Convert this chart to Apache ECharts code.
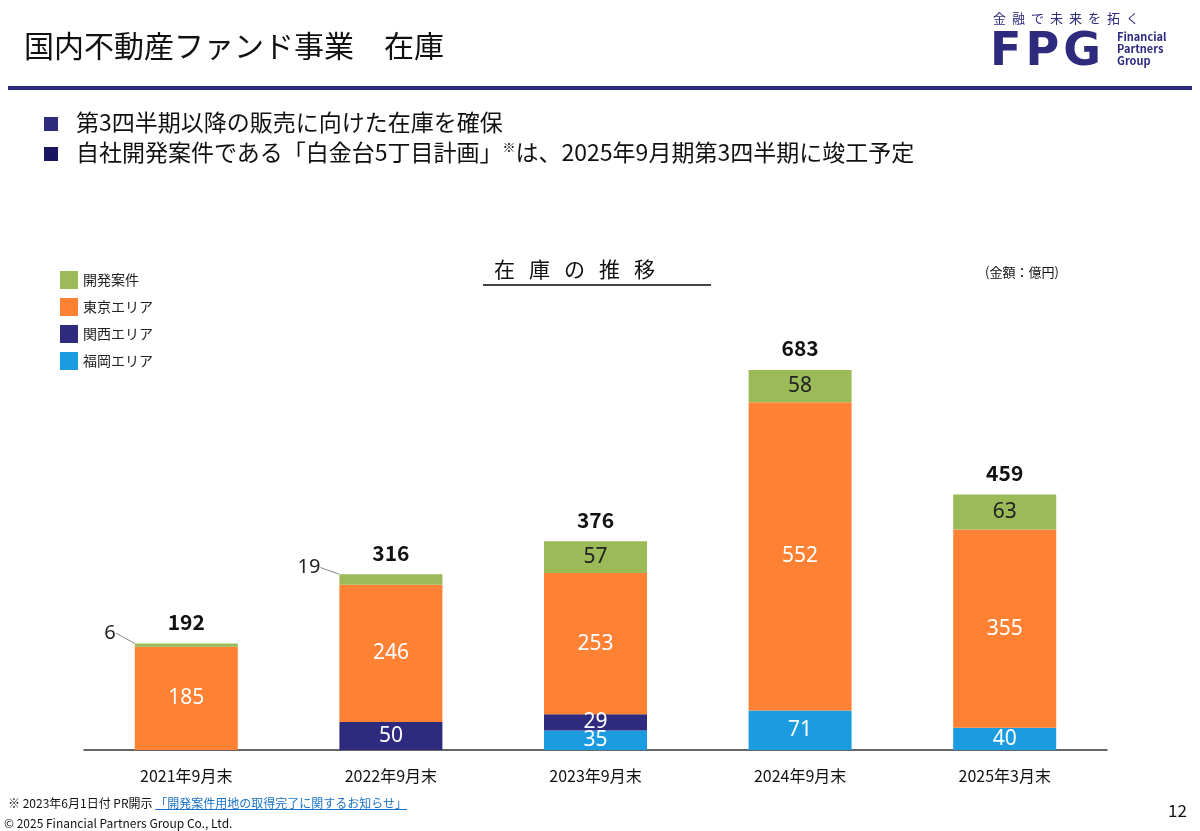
<!DOCTYPE html>
<html><head><meta charset="utf-8">
<script src="https://cdn.jsdelivr.net/npm/echarts@6/dist/echarts.min.js"></script>
<style>
html,body{margin:0;padding:0;background:#fff;font-family:"Noto Sans CJK JP","Noto Sans",sans-serif;}
#wrap{position:relative;width:1200px;height:831px;overflow:hidden;}
#chart{position:absolute;left:0;top:0;width:1200px;height:831px;}
.t{position:absolute;white-space:nowrap;color:#111;}
</style></head><body>
<div id="wrap">
<div id="chart"></div>
<div class="t" style="left:24px;top:22px;font-size:30px;">国内不動産ファンド事業　在庫</div>
<div style="position:absolute;left:8px;top:86px;width:1184px;height:4px;background:#2e2a7e;"></div>
<div class="t" style="left:993px;top:8px;font-size:13px;letter-spacing:6px;color:#2e2a7e;">金融で未来を拓く</div>
<div class="t" style="left:990px;top:26px;font-size:46px;font-weight:bold;color:#2e2a7e;font-family:'DejaVu Sans';letter-spacing:4px;line-height:46px;">FPG</div>
<div class="t" style="left:1117px;top:30px;font-size:11px;font-weight:bold;color:#2e2a7e;line-height:12px;">Financial<br>Partners<br>Group</div>
<div class="t" style="left:44px;top:104px;font-size:23px;"><span style="display:inline-block;width:14px;height:14px;background:#2e2a7e;margin-right:18px;"></span>第3四半期以降の販売に向けた在庫を確保</div>
<div class="t" style="left:44px;top:134px;font-size:23px;"><span style="display:inline-block;width:14px;height:14px;background:#1a1560;margin-right:18px;"></span>自社開発案件である「白金台5丁目計画」<sup style="font-size:13px">※</sup>は、2025年9月期第3四半期に竣工予定</div>
<div class="t" style="left:494px;top:253px;font-size:21px;letter-spacing:14px;">在庫の推移</div>
<div style="position:absolute;left:483px;top:284px;width:228px;height:2px;background:#444;"></div>
<div class="t" style="left:985px;top:262px;font-size:13px;">(金額：億円)</div>
<div class="t" style="left:8px;top:794px;font-size:12px;">※ 2023年6月1日付 PR開示 <span style="color:#1a73c8;text-decoration:underline;">「開発案件用地の取得完了に関するお知らせ」</span></div>
<div class="t" style="left:4px;top:814px;font-size:12px;">© 2025 Financial Partners Group Co., Ltd.</div>
<div class="t" style="left:1168px;top:797px;font-size:17px;">12</div>
</div>
<script>
const categories = ['2021年9月末', '2022年9月末', '2023年9月末', '2024年9月末', '2025年3月末'];
const fukuoka = [0, 0, 35, 71, 40];
const kansai = [0, 50, 29, 0, 0];
const tokyo = [185, 246, 253, 552, 355];
const kaihatsu = [6, 19, 57, 58, 63];
const totals = [192, 316, 376, 683, 459];

const chart = echarts.init(document.getElementById('chart'));
const inLabel = { show: true, position: 'inside', color: '#fff', fontSize: 21, fontFamily: 'Noto Sans', formatter: p => p.value ? p.value : '' };
const mk = (name, data, color, label) => ({
  name, type: 'bar', stack: 'a', data, barWidth: 103,
  itemStyle: { color }, label: label || inLabel
});
const devData = kaihatsu.map((v, i) => i < 2 ? {
  value: v,
  label: { position: 'left', color: '#222', fontSize: 20 },
  labelLine: { show: true, lineStyle: { color: '#888' } }
} : v);
chart.setOption({
  animation: false,
  textStyle: { fontFamily: 'Noto Sans CJK JP' },
  legend: {
    left: 55, top: 266, orient: 'vertical', itemGap: 9, itemWidth: 18, itemHeight: 18, icon: 'rect',
    data: ['開発案件', '東京エリア', '関西エリア', '福岡エリア'],
    textStyle: { fontSize: 14, color: '#222' }
  },
  grid: { left: 84, right: 93, top: 359.4, bottom: 81 },
  xAxis: {
    type: 'category', data: categories,
    axisLine: { lineStyle: { color: '#333', width: 1.5 } }, axisTick: { show: false },
    axisLabel: { color: '#111', fontSize: 16, margin: 18 }
  },
  yAxis: { type: 'value', min: 0, max: 700, show: false, splitLine: { show: false } },
  series: [
    mk('福岡エリア', fukuoka, '#1b9be0'),
    mk('関西エリア', kansai, '#2e2a7e'),
    mk('東京エリア', tokyo, '#ff8133'),
    Object.assign(mk('開発案件', devData, '#9bbb59',
      { show: true, position: 'inside', color: '#222', fontSize: 21, fontFamily: 'Noto Sans' }),
      { labelLayout: p => p.dataIndex < 2 ? { dx: -14, dy: -12 } : {} }),
    {
      name: 'total', type: 'bar', stack: 'a', barWidth: 103,
      data: totals.map(() => 0), itemStyle: { color: 'transparent' },
      label: { show: true, position: 'top', color: '#111', fontSize: 21, fontWeight: 'bold', offset: [0, -6],
        formatter: p => totals[p.dataIndex] }
    }
  ]
});
</script>
</body></html>
